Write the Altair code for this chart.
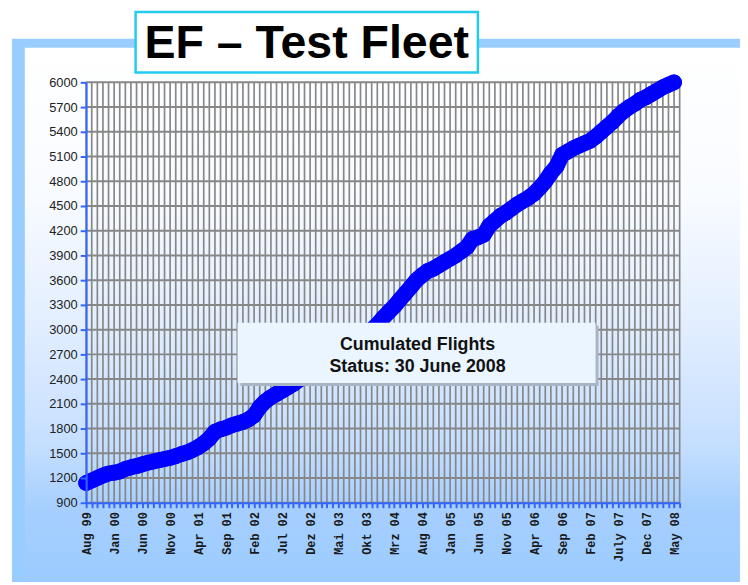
import altair as alt
import pandas as pd

# ---- data -------------------------------------------------------------
tick_labels = ["Aug 99", "Jan 00", "Jun 00", "Nov 00", "Apr 01", "Sep 01", "Feb 02",
               "Jul 02", "Dez 02", "Mai 03", "Okt 03", "Mrz 04", "Aug 04", "Jan 05",
               "Jun 05", "Nov 05", "Apr 06", "Sep 06", "Feb 07", "July 07", "Dec 07",
               "May 08"]

# cumulated flights, one value per month starting Aug 99
flights = [1140, 1170, 1200, 1230, 1255, 1265, 1280, 1310, 1330, 1345,
           1365, 1385, 1400, 1415, 1430, 1445, 1465, 1490, 1510, 1540,
           1575, 1620, 1680, 1760, 1790, 1810, 1840, 1860, 1880, 1910,
           1960, 2060, 2130, 2180, 2220, 2260, 2300, 2340, 2390, 2430,
           2480, 2530, 2570, 2620, 2670, 2710, 2760, 2810, 2860, 2900,
           2950, 3000, 3060, 3140, 3210, 3280, 3360, 3440, 3520, 3600,
           3660, 3710, 3740, 3780, 3820, 3860, 3900, 3950, 4000, 4100,
           4120, 4150, 4260, 4320, 4380, 4420, 4470, 4520, 4560, 4600,
           4650, 4720, 4800, 4900, 4980, 5120, 5160, 5200, 5230, 5260,
           5290, 5340, 5400, 5460, 5520, 5590, 5650, 5700, 5740, 5790,
           5820, 5860, 5900, 5940, 5970, 6000]

month_slots = list(range(0, 107))          # month categories on the axis
y_ticks = list(range(900, 6001, 300))

title_text = "EF \u2013 Test Fleet"
note_lines = ["Cumulated Flights", "Status: 30 June 2008"]

# ---- helpers ----------------------------------------------------------
df = pd.DataFrame({"i": list(range(len(flights))), "v": flights})
vgrid = pd.DataFrame({"i": month_slots})
hgrid = pd.DataFrame({"v": y_ticks})
one = pd.DataFrame({"a": [0]})

BLUE_AX = "#3366FF"
GRID = "#878787"

label_arr = "[" + ",".join("'%s'" % s for s in tick_labels) + "]"

x_enc = alt.X("i:Q",
              scale=alt.Scale(domain=[0, 106], nice=False, zero=False),
              axis=alt.Axis(values=month_slots,
                            labelExpr="datum.value % 5 == 0 ? " + label_arr + "[datum.value / 5] : ''",
                            labelAngle=270, labelAlign="right", labelBaseline="middle",
                            labelFont="Liberation Mono", labelFontWeight="bold",
                            labelFontSize=12, labelColor="#1A1A1A", labelPadding=4,
                            labelOverlap=False, labelFlush=False,
                            tickColor=BLUE_AX, tickSize=5, tickWidth=2,
                            domainColor=BLUE_AX, domainWidth=2,
                            grid=False, title=None, zindex=1))
y_enc = alt.Y("v:Q",
              scale=alt.Scale(domain=[900, 6000], nice=False, zero=False),
              axis=alt.Axis(values=y_ticks, format="d",
                            labelFont="Liberation Sans", labelFontSize=13,
                            labelColor="#222222", labelPadding=3,
                            tickColor=BLUE_AX, tickSize=6, tickWidth=2,
                            domainColor=BLUE_AX, domainWidth=2,
                            grid=False, title=None, zindex=1))

# ---- decoration -------------------------------------------------------
frame = alt.Chart(one).mark_rect(fill="#99CCFF").encode(
    x=alt.value(-75), x2=alt.value(661), y=alt.value(-44), y2=alt.value(505))

panel_fill = {"gradient": "linear", "x1": 0, "x2": 0, "y1": 0, "y2": 1,
              "stops": [{"offset": 0.0, "color": "#FFFFFF"},
                        {"offset": 0.28, "color": "#F8FBFF"},
                        {"offset": 0.52, "color": "#E2EEFF"},
                        {"offset": 0.74, "color": "#C6DFFF"},
                        {"offset": 0.86, "color": "#A6CFFF"},
                        {"offset": 1.0, "color": "#9CCBFF"}]}
panel = alt.Chart(one).mark_rect(fill=panel_fill).encode(
    x=alt.value(-62), x2=alt.value(661), y=alt.value(-35), y2=alt.value(505))

vlines = alt.Chart(vgrid).mark_rule(color=GRID, strokeWidth=1.7).encode(x=x_enc)
hlines = alt.Chart(hgrid).mark_rule(color=GRID, strokeWidth=2).encode(y=y_enc)

line = alt.Chart(df).mark_line(color="#0000FF", strokeWidth=16,
                               strokeCap="round", strokeJoin="round").encode(x=x_enc, y=y_enc)
dots = alt.Chart(df).mark_circle(color="#0000FF", opacity=1, size=250).encode(x=x_enc, y=y_enc)

shadow = alt.Chart(one).mark_rect(fill="#A9B4C4").encode(
    x=alt.value(156), x2=alt.value(518), y=alt.value(246), y2=alt.value(307))
note_box = alt.Chart(one).mark_rect(fill="#EAF5FF").encode(
    x=alt.value(153), x2=alt.value(515), y=alt.value(243), y2=alt.value(304))
note1 = alt.Chart(one).mark_text(text=note_lines[0], font="Liberation Sans", fontWeight="bold",
                                 fontSize=18, color="#111111", align="center",
                                 baseline="alphabetic").encode(x=alt.value(335), y=alt.value(271))
note2 = alt.Chart(one).mark_text(text=note_lines[1], font="Liberation Sans", fontWeight="bold",
                                 fontSize=18, color="#111111", align="center",
                                 baseline="alphabetic").encode(x=alt.value(335), y=alt.value(293))

title_box = alt.Chart(one).mark_rect(fill="#FFFFFF", stroke="#22CCEE", strokeWidth=2.5).encode(
    x=alt.value(50), x2=alt.value(396), y=alt.value(-71), y2=alt.value(-10))
title = alt.Chart(one).mark_text(text=title_text, font="Liberation Sans",
                                 fontWeight="bold", fontSize=47, color="#000000",
                                 align="center", baseline="alphabetic").encode(
    x=alt.value(223), y=alt.value(-25))

chart = alt.layer(frame, panel, vlines, hlines, line, dots, shadow, note_box, note1, note2,
                  title_box, title).properties(
    width=600, height=425,
    padding={"left": 79, "top": 72, "right": 61, "bottom": 80},
    autosize="none",
    background="#FFFFFF",
).configure_view(stroke=None)

chart.save("out.html", embed_options={"renderer": "svg", "actions": False})
